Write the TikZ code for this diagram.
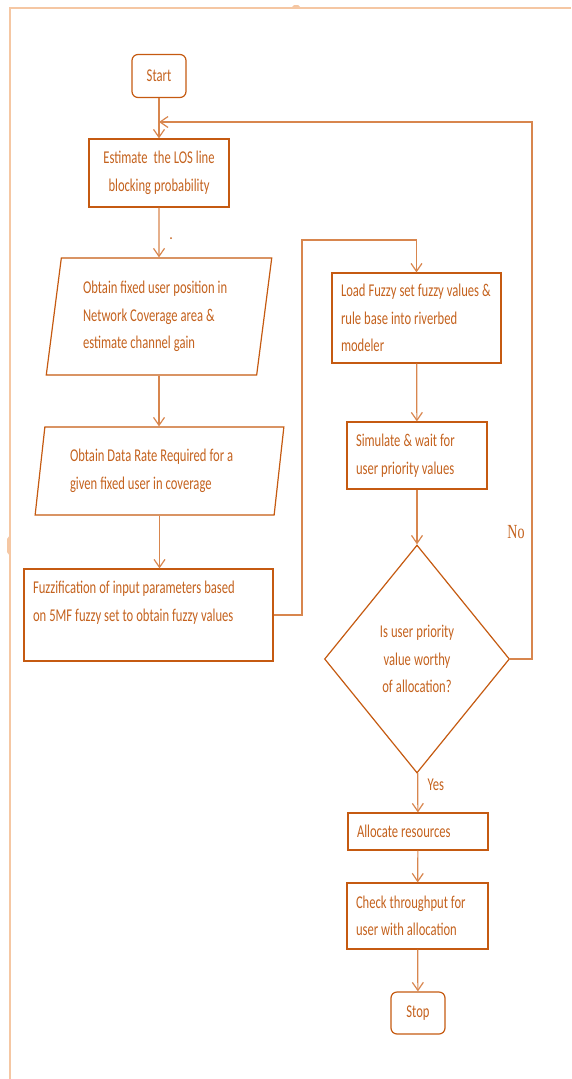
\documentclass[tikz,border=0pt]{standalone}
\usepackage{fontspec}
\setmainfont{Carlito}[FakeStretch=0.7]
\newfontfamily\serifno{Liberation Serif}[FakeStretch=0.7]
\usepackage{tikz}
\usetikzlibrary{arrows.meta,calc,positioning,shapes}
\definecolor{boxline}{HTML}{C55A11}
\definecolor{flowline}{HTML}{D8864E}
\definecolor{flowtext}{HTML}{C4621E}
\definecolor{frameline}{HTML}{F5C7A3}
\newcommand\flowfont{\fontsize{18}{27.5}\selectfont}

\begin{document}
\begin{tikzpicture}[x=1pt,y=-1pt,
    every node/.style={font=\flowfont,text=flowtext,
      execute at begin node={\spaceskip=3pt plus 1.5pt minus 1pt\relax}},
    box/.style={draw=boxline,line width=1.2pt,rectangle,align=left},
    term/.style={draw=boxline,line width=1.2pt,rounded corners=6pt,minimum width=54pt,minimum height=43pt},
    io/.style={draw=boxline,line width=1.2pt,trapezium,trapezium left angle=81,trapezium right angle=99,trapezium stretches=true,align=left},
    test/.style={draw=boxline,line width=1.2pt,diamond,align=center},
    flow/.style={draw=flowline,line width=1.2pt,-{Straight Barb[length=8pt,width=11pt]}}]

    \useasboundingbox (0,0) rectangle (571,1079);
    \draw[frameline,line width=1.5pt] (571,8) -- (10,8) -- (10,1079);
    \fill[frameline] (10,535) -- (7,539) -- (7,552) -- (10,556) -- cycle;
    \fill[frameline] (291,8) -- (294,5) -- (298,5) -- (301,8) -- cycle;

    \node[term] (START) at (159,76) {Start};
    \node[box,align=center,minimum width=140pt,minimum height=68pt] (LOS) at (159,173) {Estimate\ \ the LOS line\\blocking probability};
    \node[io,text width=152pt,minimum width=226pt,minimum height=117pt] (POS) at (159,316.5) {Obtain fixed user position in\\Network Coverage area \&\\estimate channel gain};
    \node[io,text width=179pt,minimum width=249pt,minimum height=88pt] (RATE) at (159.5,471) {Obtain Data Rate\ Required for a\\given fixed user in coverage};
    \node[box,text width=231pt,minimum width=249pt,minimum height=92pt] (FUZZ) at (148.5,615) {Fuzzification of input parameters based\\on 5MF fuzzy set to obtain\ fuzzy values\\\mbox{}};

    \node[box,text width=151pt,minimum width=169pt,minimum height=90pt] (LOAD) at (416.5,318) {Load Fuzzy set fuzzy values \&\\rule base into riverbed\\modeler};
    \node[box,text width=122pt,minimum width=140pt,minimum height=67pt] (SIM) at (417,455.5) {Simulate\ \& wait for\\user priority values};
    \node[test,text width=80pt,minimum width=185pt,minimum height=228pt] (WORTHY) at (417,659) {Is user priority\\value worthy\\of allocation?};
    \node[box,text width=122pt,minimum width=140pt,minimum height=37pt] (ALLOC) at (418,831.5) {Allocate resources};
    \node[box,text width=123pt,minimum width=141pt,minimum height=66pt] (CHECK) at (417.5,916) {Check throughput for\\user with\ allocation};
    \node[term,minimum height=42pt] (STOP) at (418,1013) {Stop};

    \coordinate (MERGE) at (159,122);
    \coordinate (RETURN) at (532,122);
    \coordinate (BEND) at (302,240);

    \draw[flow] (START) -- (LOS);
    \draw[flow] (LOS) -- (POS);
    \fill[flowtext] (171,238) circle (1pt);
    \draw[flow] (POS.south) -- (POS.south |- RATE.north);
    \draw[flow] (RATE.south) -- (RATE.south |- FUZZ.north);
    \draw[flow] (FUZZ.east) -| (BEND) -| (LOAD.north);
    \draw[flow] (LOAD) -- (SIM);
    \draw[flow] (SIM) -- (WORTHY);
    \draw[flow] (WORTHY) -- node[pos=.3,anchor=west,xshift=6pt] (YES) {Yes} (ALLOC);
    \draw[flow] (ALLOC) -- (CHECK);
    \draw[flow] (CHECK) -- (STOP);
    \draw[flow] (WORTHY.east) -| (RETURN) -- (MERGE);
    \node[font=\serifno\fontsize{20}{24}\selectfont] (NO) at (516,532) {No};

\end{tikzpicture}
\end{document}
